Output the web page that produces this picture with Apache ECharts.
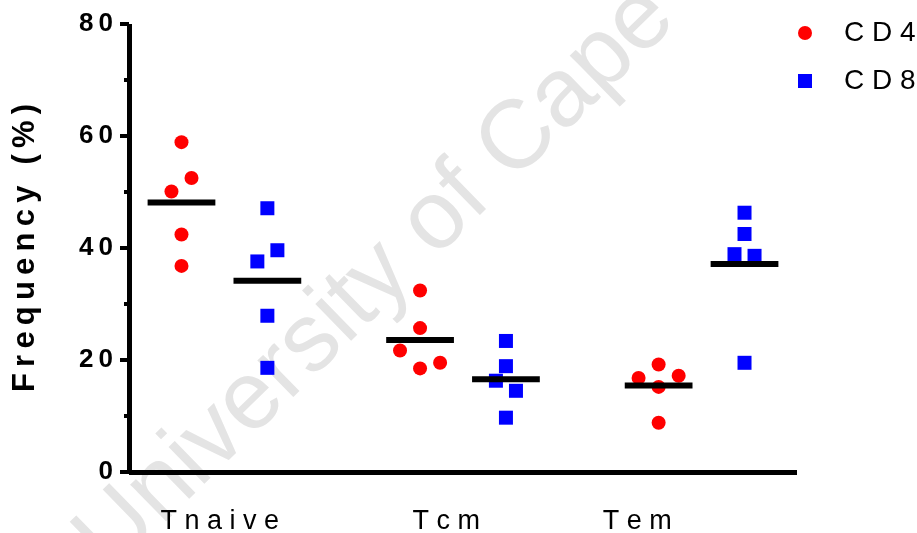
<!DOCTYPE html>
<html>
<head>
<meta charset="utf-8">
<script src="https://cdn.jsdelivr.net/npm/echarts@6/dist/echarts.min.js"></script>
<style>
  html, body { margin: 0; padding: 0; background: #fff; }
  #chart { width: 917px; height: 533px; }
</style>
</head>
<body>
<div id="chart"></div>
<script>
// T-cell subsets and the frequency (%) measured in each of five donors
const categories = ['Tnaive', 'Tcm', 'Tem'];
const seriesNames = ['CD4', 'CD8'];
const cd4Values = [
  [58.9, 52.5, 50.1, 42.4, 36.8],
  [32.4, 25.7, 21.7, 19.5, 18.5],
  [19.2, 16.8, 17.2, 15.2, 8.8]
];
const cd8Values = [
  [47.1, 39.6, 37.6, 27.9, 18.6],
  [23.4, 18.9, 16.3, 14.5, 9.7],
  [46.3, 42.5, 38.9, 38.6, 19.5]
];
const yTicks = [0, 20, 40, 60, 80];

// ---- layout of the dot plot (x in "group" units) ----
const groupOffset = 0.18;          // CD4 sits left of the group centre, CD8 right
const jitterStep = 0.042;          // horizontal spread for overlapping dots
const cd4Jitter = [[0, 1, -1, 0, 0], [0, 0, -2, 2, 0], [0, -2, 2, 0, 0]];
const cd8Jitter = [[0, 1, -1, 0, 0], [0, 0, -1, 1, 0], [0, 0, -1, 1, 0]];
const meanHalfWidth = 0.142;
const labelAt = [-0.02, 0.93, 1.73];

const FONT = "'Liberation Sans', Arial, Helvetica, sans-serif";
const spaced = (s, sep) => String(s).split('').join(sep || ' ');
const mean = arr => arr.reduce((a, b) => a + b, 0) / arr.length;

function points(values, jitter, side) {
  const out = [];
  values.forEach((grp, g) => {
    grp.forEach((v, i) => {
      out.push([g + side * groupOffset + jitter[g][i] * jitterStep, v]);
    });
  });
  return out;
}

function categoryFor(v) {
  let best = 0;
  labelAt.forEach((p, i) => {
    if (Math.abs(p - v) < Math.abs(labelAt[best] - v)) best = i;
  });
  return categories[best];
}

const meanData = [];
categories.forEach((c, g) => {
  meanData.push([g - groupOffset, mean(cd4Values[g])]);
  meanData.push([g + groupOffset, mean(cd8Values[g])]);
});

const chart = echarts.init(document.getElementById('chart'), null, { renderer: 'canvas' });

chart.setOption({
  animation: false,
  backgroundColor: '#ffffff',
  textStyle: { fontFamily: FONT },
  grid: {
    left: 129, right: 120, top: 24, bottom: 61,
    containLabel: false,
    outerBoundsMode: 'none'
  },
  graphic: [{
    type: 'text',
    z: -10,
    silent: true,
    x: 376,
    y: 279,
    rotation: 0.773,
    style: {
      text: 'University of Cape',
      font: "97px 'Liberation Sans', Arial, sans-serif",
      fill: '#e4e4e4',
      align: 'center',
      verticalAlign: 'middle'
    }
  }],
  legend: {
    orient: 'vertical',
    left: 793,
    top: 14,
    itemWidth: 14,
    itemHeight: 14,
    itemGap: 20,
    data: [
      { name: seriesNames[0], icon: 'circle' },
      { name: seriesNames[1], icon: 'rect' }
    ],
    formatter: name => spaced(name),
    textStyle: { fontSize: 28, color: '#000', fontFamily: FONT, padding: [0, 0, 0, 27] }
  },
  xAxis: {
    type: 'value',
    min: -0.4,
    max: 2.4,
    axisLine: { show: true, onZero: false, lineStyle: { color: '#000', width: 5, cap: 'butt' } },
    axisTick: { show: false },
    splitLine: { show: false },
    axisLabel: {
      customValues: labelAt,
      formatter: v => spaced(categoryFor(v)),
      fontSize: 27,
      color: '#000',
      fontFamily: FONT,
      margin: 36
    }
  },
  yAxis: {
    type: 'value',
    min: yTicks[0],
    max: yTicks[yTicks.length - 1],
    interval: yTicks[1] - yTicks[0],
    name: spaced('Frequency (%)', '\u2009'),
    nameLocation: 'middle',
    nameGap: 88,
    nameTextStyle: { fontSize: 31, fontWeight: 'bold', color: '#000', fontFamily: FONT },
    axisLine: { show: true, onZero: false, lineStyle: { color: '#000', width: 5, cap: 'butt' } },
    axisTick: { show: true, inside: false, length: 9, lineStyle: { color: '#000', width: 4 } },
    minorTick: { show: true, splitNumber: 2, length: 5, lineStyle: { color: '#000', width: 4 } },
    splitLine: { show: false },
    axisLabel: {
      formatter: v => spaced(v, '\u2009'),
      fontSize: 26,
      fontWeight: 'bold',
      color: '#000',
      fontFamily: FONT,
      margin: 16
    }
  },
  series: [
    {
      name: seriesNames[0],
      type: 'scatter',
      symbol: 'circle',
      symbolSize: 14,
      itemStyle: { color: '#ff0000', opacity: 1 },
      data: points(cd4Values, cd4Jitter, -1),
      z: 3
    },
    {
      name: seriesNames[1],
      type: 'scatter',
      symbol: 'rect',
      symbolSize: 14,
      itemStyle: { color: '#0000ff', opacity: 1 },
      data: points(cd8Values, cd8Jitter, 1),
      z: 3
    },
    {
      name: 'mean',
      type: 'custom',
      z: 5,
      silent: true,
      data: meanData,
      renderItem: (params, api) => {
        const x = api.value(0), m = api.value(1);
        const p1 = api.coord([x - meanHalfWidth, m]);
        const p2 = api.coord([x + meanHalfWidth, m]);
        return {
          type: 'line',
          shape: { x1: p1[0], y1: p1[1], x2: p2[0], y2: p2[1] },
          style: { stroke: '#000', lineWidth: 6, lineCap: 'butt' }
        };
      }
    }
  ]
});
</script>
</body>
</html>
